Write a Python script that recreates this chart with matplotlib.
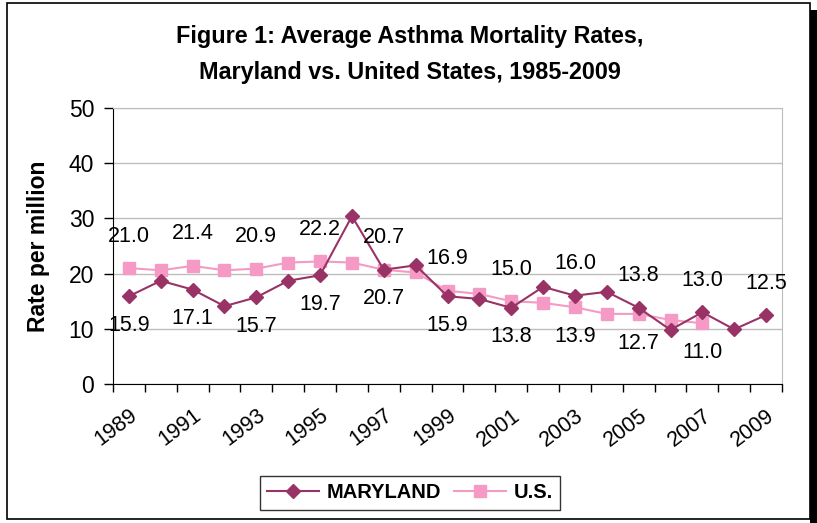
import numpy as np
import matplotlib
matplotlib.use("Agg")
import matplotlib.pyplot as plt
from matplotlib.patches import Rectangle

plt.rcParams['font.family'] = ['Liberation Sans', 'DejaVu Sans']

# data
years = list(range(1989, 2010))
maryland = [15.9, 18.7, 17.1, 14.1, 15.7, 18.7, 19.7, 30.4, 20.7, 21.5, 15.9,
            15.4, 13.8, 17.6, 16.0, 16.7, 13.8, 9.8, 13.0, 9.9, 12.5]
us = [21.0, 20.6, 21.4, 20.6, 20.9, 22.0, 22.2, 22.0, 20.7, 20.2, 16.9,
      16.3, 15.0, 14.7, 13.9, 12.7, 12.7, 11.6, 11.0]
tick_years = [str(y) for y in years[::2]]

md_color = '#993366'
us_color = '#F49AC4'

W, H = 817, 523
fig = plt.figure(figsize=(W / 100, H / 100), dpi=100)

# outer chart frame with shadow
fig.patches.append(Rectangle((810 / W, 0), 7 / W, 1 - 10 / H, transform=fig.transFigure,
                             facecolor='black', edgecolor='none'))
fig.patches.append(Rectangle((7 / W, 4 / H), 803 / W, 1 - 7 / H, transform=fig.transFigure,
                             facecolor='none', edgecolor='black', lw=1.2))

ax = fig.add_axes([113 / W, (H - 384) / H, 669 / W, 276 / H])

x_md = np.arange(len(maryland))
x_us = np.arange(len(us))
ax.plot(x_md, maryland, color=md_color, lw=1.5, marker='D', ms=7.5, zorder=3, label='MARYLAND')
ax.plot(x_us, us, color=us_color, lw=1.5, marker='s', ms=9, zorder=2, label='U.S.')

# data labels on every other year: higher series above, lower below
for i in range(0, len(maryland), 2):
    pts = [(maryland[i], md_color)]
    if i < len(us):
        pts.append((us[i], us_color))
    pts.sort(key=lambda p: -p[0])
    for k, (v, c) in enumerate(pts):
        dy = 23 if k == 0 else -21
        ax.annotate(f'{v:.1f}', (i, v), xytext=(0, dy), textcoords='offset points',
                    ha='center', va='center', fontsize=15.5)

ax.set_xlim(-0.5, len(years) - 0.5)
ax.set_ylim(0, 50)
ax.set_yticks(np.arange(0, 51, 10))
ax.yaxis.grid(True, color='#BDBDBD', lw=1)
ax.set_axisbelow(True)

ax.set_xticks(np.arange(-0.5, len(years)), labels=[])
ax.set_xticks(np.arange(0, len(years), 2), minor=True)
ax.set_xticklabels(tick_years, minor=True, rotation=37, ha='right', va='top',
                   rotation_mode='anchor', fontsize=15.5)
ax.tick_params(axis='x', which='major', direction='out', length=6, width=1)
ax.tick_params(axis='x', which='minor', length=0, pad=15)
ax.tick_params(axis='y', direction='out', length=6.5, width=1, labelsize=16.5, pad=7)

for s in ['top', 'right']:
    ax.spines[s].set_color('#BDBDBD')
for s in ['left', 'bottom']:
    ax.spines[s].set_color('black')

ax.set_ylabel('Rate per million', fontsize=16.5, fontweight='bold')
ax.yaxis.set_label_coords(-0.094, 0.5)

fig.text(410 / W, 1 - 36 / H, 'Figure 1: Average Asthma Mortality Rates,', ha='center', va='center',
         fontsize=16.8, fontweight='bold')
fig.text(410 / W, 1 - 73 / H, 'Maryland vs. United States, 1985-2009', ha='center', va='center',
         fontsize=16.8, fontweight='bold')

leg = fig.legend(loc='center', bbox_to_anchor=(410 / W, 1 - 493 / H), ncol=2, frameon=True,
                 fancybox=False, edgecolor='black', prop={'weight': 'bold', 'size': 14.5},
                 handlelength=2.6, handletextpad=0.4, columnspacing=0.6, borderpad=0.35)
leg.get_frame().set_linewidth(1)

fig.savefig('out.png', dpi=100)
